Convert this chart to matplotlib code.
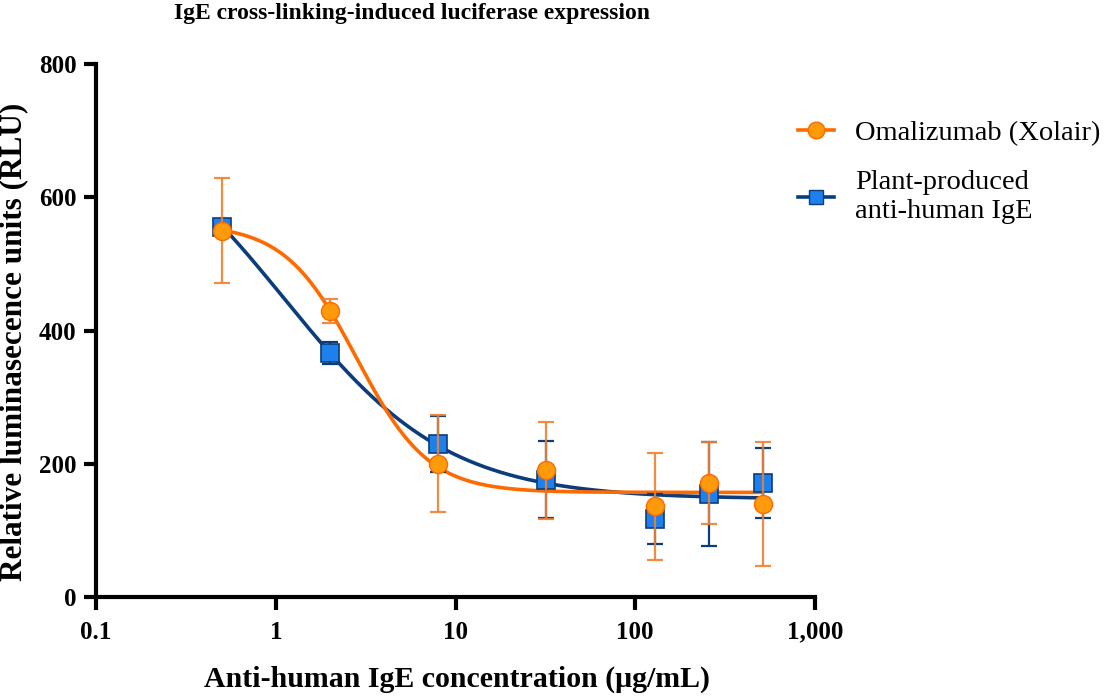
import numpy as np
import matplotlib.pyplot as plt
from matplotlib.lines import Line2D

# concentrations (ug/mL)
conc = [0.5, 2, 8, 32, 128, 256, 512]

# Omalizumab (Xolair)
xol_mean = [550, 430, 200, 190, 136, 171, 139]
xol_sd = [79, 18, 73, 73, 80, 62, 93]

# plant-produced anti-human IgE
plant_mean = [555, 366, 229, 176, 117, 155, 171]
plant_sd = [5, 17, 42, 58, 38, 78, 52]

# 4PL fit parameters: bottom, top, ic50, hill
xol_fit = [157, 560, 2.82, 2.17]
plant_fit = [147, 750, 1.11, 0.95]

orange_line = '#FF6A00'
orange_fill = '#FF9A0A'
orange_err = '#F08030'
blue_line = '#0B3D7C'
blue_fill = '#1E80EC'


def fourpl(x, p):
    b, t, ic50, h = p
    return b + (t - b) / (1 + (x / ic50) ** h)


plt.rcParams['font.family'] = ['Liberation Serif', 'DejaVu Serif']

fig = plt.figure(figsize=(11.07, 6.96), dpi=100)
ax = fig.add_axes([96 / 1107, 1 - 597 / 696, (815 - 96) / 1107, (597 - 64) / 696])

xs = np.logspace(np.log10(conc[0]), np.log10(conc[-1]), 400)
ax.plot(xs, fourpl(xs, plant_fit), color=blue_line, lw=2.6, zorder=2)
ax.plot(xs, fourpl(xs, xol_fit), color=orange_line, lw=2.6, zorder=3)

ax.errorbar(conc, plant_mean, yerr=plant_sd, fmt='none', ecolor=blue_line,
            elinewidth=1.6, capsize=6, capthick=1.6, zorder=4)
ax.plot(conc, plant_mean, 's', ms=12.5, mfc=blue_fill, mec=blue_line, mew=1.2,
        ls='none', zorder=5)
ax.errorbar(conc, xol_mean, yerr=xol_sd, fmt='none', ecolor=orange_err,
            elinewidth=1.6, capsize=6, capthick=1.6, zorder=6, alpha=0.9)
ax.plot(conc, xol_mean, 'o', ms=13, mfc=orange_fill, mec=orange_line, mew=1.0,
        ls='none', zorder=7)

ax.set_xscale('log')
ax.set_xlim(0.1, 1000)
ax.set_ylim(0, 800)
ax.set_xticks([0.1, 1, 10, 100, 1000])
ax.set_xticklabels(['0.1', '1', '10', '100', '1,000'])
ax.xaxis.set_minor_locator(plt.NullLocator())
ax.set_yticks([0, 200, 400, 600, 800])

for s in ['top', 'right']:
    ax.spines[s].set_visible(False)
for s in ['left', 'bottom']:
    ax.spines[s].set_linewidth(3)
ax.tick_params(axis='both', width=3, length=9, labelsize=18)
ax.tick_params(axis='x', pad=8)
ax.tick_params(axis='y', pad=5)
for lab in ax.get_xticklabels() + ax.get_yticklabels():
    lab.set_fontweight('bold')

fig.text(457 / 1107, 1 - 679 / 696, 'Anti-human IgE concentration (\u03bcg/mL)',
         ha='center', va='center', fontsize=21.5, fontweight='bold')
fig.text(14 / 1107, 1 - 342 / 696, 'Relative luminasecence units (RLU)',
         ha='center', va='center', rotation=90, fontsize=22.5, fontweight='bold')
fig.text(412 / 1107, 1 - 14 / 696, 'IgE cross-linking-induced luciferase expression',
         ha='center', va='center', fontsize=17, fontweight='bold')

handles = [
    Line2D([], [], color=orange_line, lw=2.6, marker='o', ms=12,
           mfc=orange_fill, mec=orange_line),
    Line2D([], [], color=blue_line, lw=2.6, marker='s', ms=10,
           mfc=blue_fill, mec=blue_line),
]
fig.legend(handles, ['Omalizumab (Xolair)', 'Plant-produced\nanti-human IgE'],
           loc='upper left', bbox_to_anchor=(798 / 1107, 1 - 120 / 696),
           frameon=False, fontsize=20.5, handlelength=1.25, handletextpad=0.75,
           labelspacing=0.85, borderpad=0, borderaxespad=0)

fig.savefig('out.png', dpi=100)
